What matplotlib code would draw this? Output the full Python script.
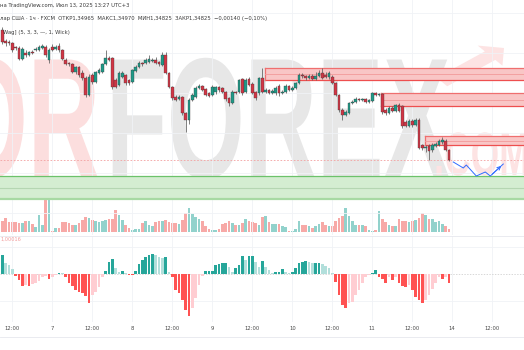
import numpy as np
import matplotlib
matplotlib.use("Agg")
import matplotlib.pyplot as plt
from matplotlib.lines import Line2D
from matplotlib.patches import FancyArrow
from matplotlib.patheffects import AbstractPathEffect
from matplotlib.transforms import Affine2D

W, H = 524, 350

# prices are stored as pips above 1.3000
BASE = 1.3000

opens = [612, 601, 600, 599, 595, 594, 583, 589, 587, 590,
         592, 592, 594, 595, 582, 595, 593, 596, 592, 582,
         579, 578, 570, 575, 569, 564, 547, 567, 560, 569,
         570, 578, 584, 584, 562, 557, 565, 567, 562, 560,
         571, 575, 579, 579, 580, 581, 582, 580, 577, 587,
         569, 555, 545, 543, 545, 529, 522, 542, 545, 554,
         556, 553, 549, 547, 550, 555, 554, 550, 544, 539,
         550, 550, 563, 550, 563, 558, 550, 549, 564, 550,
         552, 549, 549, 556, 549, 550, 556, 552, 554, 559,
         567, 566, 564, 566, 563, 566, 569, 567, 565, 565,
         559, 547, 532, 527, 529, 539, 540, 543, 542, 543,
         540, 541, 549, 547,
         548, 532, 529, 534, 531, 537, 536,
         520, 516, 521, 517, 522, 497, 494, 496, 492, 496,
         497, 500, 501, 492]
highs = [615, 603, 602, 600, 596, 596, 595, 592, 591, 592,
         595, 597, 598, 597, 594, 598, 597, 599, 593, 584,
         580, 579, 576, 576, 572, 566, 568, 569, 571, 574,
         579, 592, 586, 585, 564, 571, 571, 568, 563, 573,
         577, 581, 580, 584, 587, 584, 585, 581, 590, 590,
         570, 556, 547, 547, 546, 530, 544, 549, 556, 558,
         557, 554, 550, 557, 556, 556, 555, 551, 545, 552,
         551, 563, 564, 564, 565, 560, 551, 565, 574, 554,
         553, 553, 556, 558, 552, 558, 557, 556, 560, 569,
         569, 567, 568, 568, 570, 572, 574, 570, 571, 567,
         560, 548, 534, 532, 540, 542, 545, 544, 544, 544,
         543, 550, 550, 549,
         549, 534, 536, 536, 538, 539, 537,
         522, 523, 523, 524, 524, 498, 497, 498, 499, 500,
         503, 505, 503, 493]
lows = [598, 596, 597, 590, 592, 582, 582, 585, 586, 588,
        591, 591, 593, 585, 579, 591, 592, 590, 582, 577,
        576, 569, 568, 565, 562, 545, 546, 558, 559, 568,
        569, 577, 581, 553, 554, 556, 564, 557, 557, 559,
        570, 574, 576, 578, 579, 580, 578, 576, 576, 568,
        554, 542, 541, 542, 527, 510, 518, 541, 544, 553,
        551, 546, 545, 546, 548, 550, 549, 541, 536, 538,
        548, 549, 547, 549, 556, 548, 542, 547, 549, 549,
        548, 548, 547, 546, 548, 549, 551, 551, 553, 558,
        564, 562, 563, 562, 562, 565, 563, 564, 563, 558,
        546, 530, 522, 526, 528, 538, 539, 541, 541, 539,
        539, 540, 546, 546,
        528, 527, 528, 530, 530, 530, 514,
        515, 515, 515, 516, 493, 492, 490, 482, 490, 495,
        496, 498, 491, 481]
closes = [600, 599, 599, 592, 594, 583, 593, 587, 590, 589,
          593, 595, 596, 587, 592, 592, 595, 592, 583, 578,
          578, 570, 575, 567, 564, 547, 565, 560, 570, 572,
          578, 584, 582, 555, 555, 569, 569, 559, 559, 572,
          575, 579, 578, 582, 583, 582, 579, 578, 587, 569,
          555, 544, 542, 545, 529, 522, 542, 547, 554, 556,
          552, 547, 546, 555, 555, 552, 550, 543, 539, 550,
          549, 562, 549, 562, 557, 549, 544, 564, 550, 552,
          549, 551, 554, 549, 550, 556, 552, 554, 559, 567,
          566, 564, 566, 563, 566, 569, 564, 565, 569, 559,
          547, 532, 527, 530, 539, 540, 543, 542, 542, 540,
          542, 549, 547, 548,
          530, 529, 534, 531, 537, 531, 516,
          516, 521, 517, 522, 494, 494, 495, 491, 497, 498,
          501, 502, 492, 482]

volume = [32, 42, 29, 29, 29, 27, 27, 32, 34, 24,
          14, 52, 22, 139, 165, 2, 12, 12, 29, 29,
          27, 22, 22, 27, 35, 45, 42, 35, 32, 29,
          32, 37, 39, 39, 67, 52, 37, 22, 12, 5,
          10, 10, 27, 32, 22, 17, 29, 32, 34, 37,
          29, 27, 27, 25, 37, 57, 72, 54, 45, 39,
          32, 17, 10, 5, 5, 10, 25, 27, 32, 27,
          22, 22, 27, 39, 32, 30, 27, 22, 45,
          49, 29, 24, 24, 24, 17, 14, 4, 4, 10,
          32, 22, 22, 17, 12, 17, 24, 29, 22, 17,
          19, 32, 42, 47, 72, 47, 32, 22, 22, 22,
          17, 5, 4, 7, 64, 40, 30, 22, 19, 19,
          40, 32, 34, 29, 32, 37, 42, 57, 52, 39,
          39, 30, 32, 25, 17, 10]

# MACD histogram, 1e-6
macd_hist = [57, 32, 27, 14, -6, -18, -36, -33, -36, -30,
             -26, -20, -10, -6, -16, -10, -3, 3, 2, -10,
             -26, -36, -48, -53, -58, -66, -88, -63, -53, -38,
             -10, 10, 37, 44, 17, 7, 9, 4, -2, -4,
             10, 30, 42, 52, 57, 60, 57, 52, 47, 52,
             7, -8, -48, -58, -78, -108, -126, -103, -73, -33,
             -6, 10, 10, 10, 27, 30, 32, 32, 22, 7,
             17, 27, 54, 42, 54, 54, 37, 22,
             40, 22, 12, 4, 7, 7, 14, 7, 4, 7,
             17, 32, 37, 40, 37, 32, 32, 32, 30, 24,
             17, 2, -23, -63, -93, -103, -88, -83, -63, -48,
             -26, -10, -3, 4, 12, -10, -16, -26, -8, -18,
             -10, -26, -36, -38, -33, -48, -68, -78, -86, -78,
             -63, -46, -28, -10, -16, -10, -26]

hours = np.arange(len(closes)) + 9   # hours from day 6 00:00

# zones: (start hour, top, bottom) in pips
red_zones = [(87.8, 574, 562), (122.5, 549, 536), (135.8, 506, 497)]
green_zone = (466, 443)

# forecast path (hour, pips)
fc_t = [144.3, 147.3, 148.2, 151.2, 153.9, 155.4, 159.3]
fc_p = [480, 474, 477, 466, 470, 466, 478]

tick_pos = [12, 24, 36, 48, 60, 72, 84, 96, 108, 120, 132, 144, 156]
tick_lab = ['12:00', '7', '12:00', '8', '12:00', '9', '12:00', '10',
            '12:00', '11', '12:00', '14', '12:00']

xlim = (8.3, 8.3 + W / 3.333)

UP, DN = '#1f9a88', '#d23645'
VUP, VDN = '#92d2cc', '#f7a9a7'


class Narrow(AbstractPathEffect):
    """squeeze text horizontally around x0 (display px)"""
    def __init__(self, x0, sx):
        super().__init__()
        self.x0, self.sx = x0, sx

    def draw_path(self, renderer, gc, tpath, affine, rgbFace=None):
        tr = affine + Affine2D().translate(-self.x0, 0).scale(self.sx, 1).translate(self.x0, 0)
        renderer.draw_path(gc, tpath, tr, rgbFace)


fig = plt.figure(figsize=(W / 100, H / 100), dpi=100)
fig.patch.set_facecolor('white')


def fy(px):
    return 1 - px / H


ax = fig.add_axes([0, fy(235), 1, 235 / H])
axv = fig.add_axes([0, fy(232), 1, 232 / H], sharex=ax)
axm = fig.add_axes([0, fy(322), 1, (322 - 236) / H], sharex=ax)

for a in (ax, axv, axm):
    a.set_xlim(*xlim)
    for s in a.spines.values():
        s.set_visible(False)
    a.tick_params(left=False, labelleft=False, bottom=False, labelbottom=False)
    a.patch.set_visible(False)

ax.set_zorder(2)
axv.set_zorder(1)

ax.set_ylim(407, 642)
axv.set_ylim(0, 696)
axm.set_ylim(-144, 114)

# grid
for a in (ax, axm):
    for t in tick_pos:
        a.axvline(t, color='#f0f2f6', lw=0.6, zorder=0)
for p in [629, 589, 549, 509, 469, 429]:
    ax.axhline(p, color='#f0f2f6', lw=0.6, zorder=0)
for v in [81, -81]:
    axm.axhline(v, color='#f0f2f6', lw=0.6, zorder=0)

# watermark
wm = dict(family='Liberation Sans', fontweight='bold', va='baseline', zorder=0.5)
fig.text(100 / W, fy(178), 'OR', ha='right', color='#fcdede', fontsize=124,
         path_effects=[Narrow(100, 0.58)], **wm)
fig.text(106 / W, fy(178), 'FOREX', ha='left', color='#e7e7e7', fontsize=124,
         path_effects=[Narrow(106, 0.58)], **wm)
fig.text(434 / W, fy(175), '.COM', ha='left', color='#fde3e3', fontsize=44,
         path_effects=[Narrow(434, 0.6)], **wm)
fig.add_artist(FancyArrow(442 / W, fy(82), 62 / W, (82 - 48) / H, width=11 / H,
                          head_width=26 / H, head_length=18 / W,
                          length_includes_head=True, transform=fig.transFigure,
                          color='#fde3e3', lw=0, zorder=0.5))

# green zone
gz_top, gz_bot = green_zone
ax.axhspan(gz_bot, gz_top, color='#d4edd1', lw=0, zorder=1)
ax.axhline(gz_top, color='#6cc26a', lw=0.9, zorder=1.1)
ax.axhline(gz_bot, color='#a7d9a3', lw=1.6, zorder=1.1)
ax.axhline((gz_top + gz_bot) / 2, color='#b5d6b2', lw=0.8, zorder=1.1)

# red zones
for t0, top, bot in red_zones:
    ax.fill_between([t0, xlim[1] + 5], bot, top, color='#f9c6c6', lw=0, zorder=1)
    ax.plot([t0, xlim[1] + 5], [top, top], color='#ef6f6f', lw=0.9, zorder=1.1)
    ax.plot([t0, xlim[1] + 5], [bot, bot], color='#ee4f4f', lw=0.9, zorder=1.1)
    ax.plot([t0, t0], [bot, top], color='#ef6f6f', lw=0.9, zorder=1.1)
    mid = (top + bot) / 2
    ax.plot([t0, xlim[1] + 5], [mid, mid], color='#f29a9a', lw=0.6, zorder=1.1)

# last price line
ax.axhline(closes[-1], color='#f3a0a0', lw=0.6, ls=(0, (2, 2)), zorder=1.2)

# candles
o = np.array(opens)
c = np.array(closes)
up = c >= o
cols = np.where(up, UP, DN)
ax.vlines(hours, lows, highs, color='#5d5d5d', lw=0.55, zorder=2)
body_h = np.where(np.abs(c - o) < 0.8, 0.8, np.abs(c - o))
ax.bar(hours, body_h, bottom=np.minimum(o, c), width=0.75, color=cols,
       edgecolor='#3a3a3a', linewidth=0.25, zorder=3)

# volume
axv.bar(hours, volume, width=0.8, color=np.where(up, VUP, VDN), lw=0, zorder=2)

# forecast arrow
ax.plot(fc_t, fc_p, color='#2f6bff', lw=0.7, zorder=4)
ax.annotate('', xy=(fc_t[-1], fc_p[-1]), xytext=(fc_t[-2], fc_p[-2]),
            arrowprops=dict(arrowstyle='->', color='#2f6bff', lw=0.7,
                            mutation_scale=6), zorder=4)

# MACD histogram
hcols = []
prev = 0
for v in macd_hist:
    if v >= 0:
        hcols.append('#26a69a' if v >= prev else '#b2dfdb')
    else:
        hcols.append('#ff5252' if v <= prev else '#ffcdd2')
    prev = v
axm.bar(hours, macd_hist, width=0.8, color=hcols, lw=0, zorder=2)
axm.axhline(0, color='#c8c8c8', lw=0.5, ls=(0, (2, 2)), zorder=1)

# separators
fig.add_artist(Line2D([0, 1], [fy(236), fy(236)], color='#e6e8ee', lw=0.6))
fig.add_artist(Line2D([0, 1], [fy(336.5), fy(336.5)], color='#e6e8ee', lw=0.6))

# time axis labels
for t, lab in zip(tick_pos, tick_lab):
    x = (t - xlim[0]) / (xlim[1] - xlim[0])
    fig.text(x, fy(329), lab, ha='center', va='center', fontsize=3.8,
             color='#4a4a4a')

# header texts
fig.text(0.5 / W, fy(6), 'на TradingView.com, Июл 13, 2025 13:27 UTC+3',
         fontsize=3.8, color='#3a3a3a', va='center')
fig.text(0.5 / W, fy(18.5),
         'лар США · 1ч · FXCM  ОТКР1,34965  МАКС1,34970  МИН1,34825  '
         'ЗАКР1,34825  −0,00140 (−0,10%)',
         fontsize=3.8, color='#3a3a3a', va='center')
fig.text(3 / W, fy(32.5), 'Wag] (5, 3, 3, —, 1, Wick)',
         fontsize=3.8, color='#3a3a3a', va='center')
fig.text(0.5 / W, fy(239.5), '1,00016', fontsize=3.6, color='#f29a9a',
         va='center')

fig.savefig('out.png', dpi=100, facecolor='white')
